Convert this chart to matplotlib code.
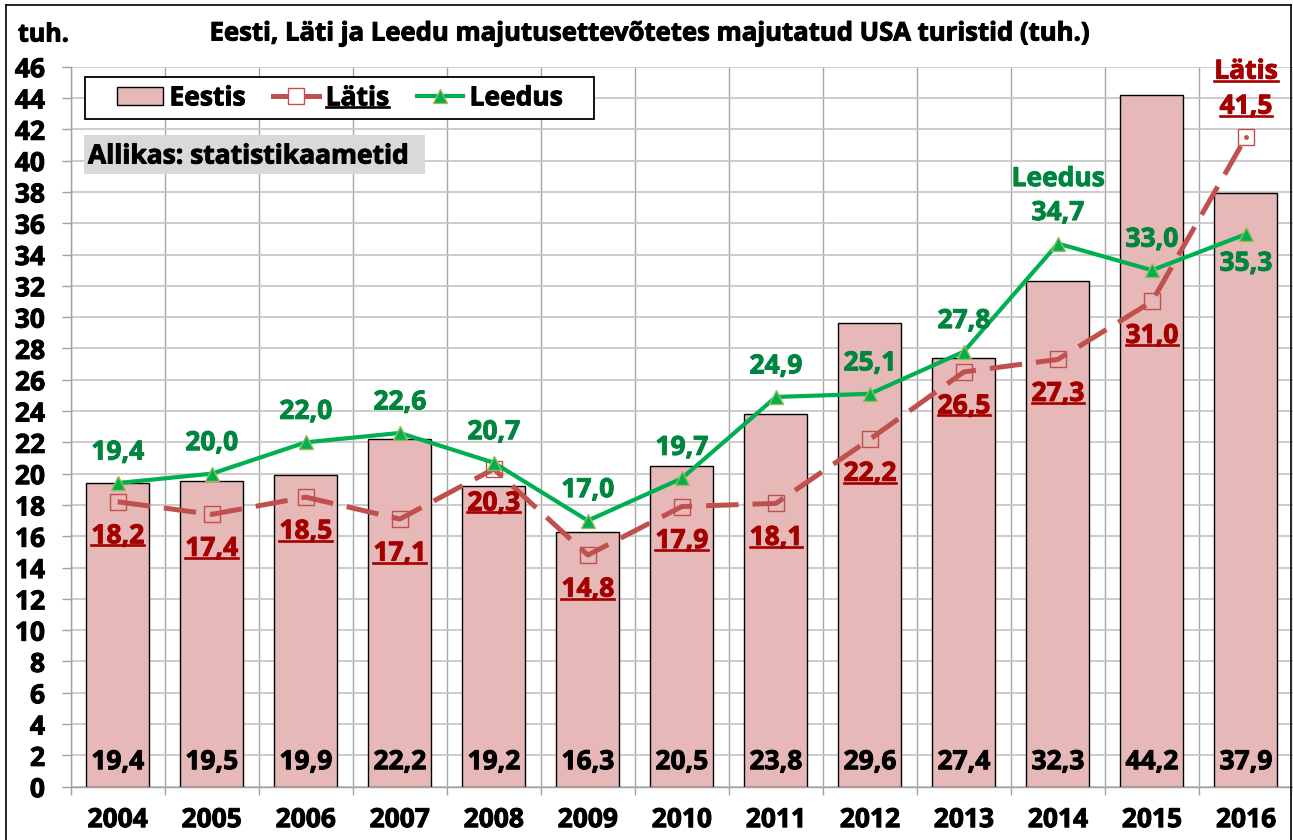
import matplotlib
matplotlib.use('Agg')
import matplotlib.pyplot as plt
import matplotlib.patheffects as pe
from matplotlib.lines import Line2D
from matplotlib.patches import Patch, Rectangle
import numpy as np

# ---- data ----
years = ['2004', '2005', '2006', '2007', '2008', '2009', '2010',
         '2011', '2012', '2013', '2014', '2015', '2016']
eestis = [19.4, 19.5, 19.9, 22.2, 19.2, 16.3, 20.5, 23.8, 29.6, 27.4, 32.3, 44.2, 37.9]
latis = [18.2, 17.4, 18.5, 17.1, 20.3, 14.8, 17.9, 18.1, 22.2, 26.5, 27.3, 31.0, 41.5]
leedus = [19.4, 20.0, 22.0, 22.6, 20.7, 17.0, 19.7, 24.9, 25.1, 27.8, 34.7, 33.0, 35.3]
yticks = list(range(0, 47, 2))
series_names = ['Eestis', 'Lätis', 'Leedus']
title = 'Eesti, Läti ja Leedu majutusettevõtetes majutatud USA turistid (tuh.)'
unit = 'tuh.'
source = 'Allikas: statistikaametid'

# ---- style ----
plt.rcParams['font.family'] = ['Open Sans', 'DejaVu Sans']
plt.rcParams['font.weight'] = 'bold'
C_BAR = '#E6B8B7'
C_LAT = '#C0504D'
C_LAT_TXT = '#A50000'
C_LEE = '#00B050'
C_LEE_TXT = '#00853E'
FS = 19


def heavy(color):
    return [pe.withStroke(linewidth=0.7, foreground=color)]


W, H = 1293, 840
fig = plt.figure(figsize=(W / 100, H / 100), dpi=100)
fig.patch.set_facecolor('white')
ax_l, ax_b, ax_t = 70.7, 786.7, 66.7
ax = fig.add_axes([ax_l / W, 1 - ax_b / H, (W - ax_l) / W, (ax_b - ax_t) / H])

x = np.arange(len(years))
ax.bar(x, eestis, width=0.67, color=C_BAR, edgecolor='black', linewidth=1.0, zorder=2)
ax.plot(x, latis, color=C_LAT, lw=3.6, dashes=(6.5, 2.8), marker='s', ms=11,
        mfc='none', mec=C_LAT, mew=1.0, zorder=3)
ax.plot(x[-1:], latis[-1:], marker='o', ms=2.5, color=C_LAT, lw=0, zorder=3)
ax.plot(x, leedus, color=C_LEE, lw=3.0, marker='^', ms=10, mfc=C_LEE,
        mec='#9BBB59', mew=1.0, zorder=4)

ax.set_xlim(-0.5, len(years) - 0.5)
ax.set_ylim(0, 46)
ax.set_yticks(yticks)
ax.set_yticklabels([str(t) for t in yticks], fontsize=FS, fontweight='bold')
ax.set_xticks(x)
ax.set_xticklabels(years, fontsize=FS, fontweight='bold')
for lab in ax.get_xticklabels() + ax.get_yticklabels():
    lab.set_path_effects(heavy('black'))
ax.set_xticks(np.arange(-0.5, len(years), 1.0), minor=True)
ax.tick_params(axis='x', which='major', length=0, pad=14)
ax.tick_params(axis='x', which='minor', length=6, color='#A0A0A0', width=1)
ax.tick_params(axis='y', which='major', length=6.5, color='#A0A0A0', width=1, pad=12)
ax.grid(axis='y', which='major', color='#C8C8C8', lw=1.3, zorder=0)
ax.grid(axis='x', which='minor', color='#A6A6A6', lw=1.0, zorder=0)
ax.set_axisbelow(True)
for s in ['top', 'right']:
    ax.spines[s].set_visible(False)
for s in ['left', 'bottom']:
    ax.spines[s].set_color('#A0A0A0')
    ax.spines[s].set_linewidth(1.0)


def fmt(v):
    return f'{v:.1f}'.replace('.', ',')


# bar labels
for i, v in enumerate(eestis):
    ax.annotate(fmt(v), (x[i], 0), xytext=(0, 25), textcoords='offset pixels',
                ha='center', va='center', fontsize=FS, fontweight='bold',
                color='black', zorder=6, path_effects=heavy('black'))

underline = []
n = len(years)
# Leedus labels
for i, v in enumerate(leedus):
    off = -29 if i == n - 1 else 31
    ax.annotate(fmt(v), (x[i], v), xytext=(0, off), textcoords='offset pixels',
                ha='center', va='center', fontsize=FS, fontweight='bold',
                color=C_LEE_TXT, zorder=6, path_effects=heavy(C_LEE_TXT))
ax.annotate(series_names[2], (x[10], leedus[10]), xytext=(0, 65), textcoords='offset pixels',
            ha='center', va='center', fontsize=FS, fontweight='bold', color=C_LEE_TXT,
            zorder=6, path_effects=heavy(C_LEE_TXT))

# Latis labels
for i, v in enumerate(latis):
    off = 31 if i == n - 1 else -34
    t = ax.annotate(fmt(v), (x[i], v), xytext=(0, off), textcoords='offset pixels',
                    ha='center', va='center', fontsize=FS, fontweight='bold',
                    color=C_LAT_TXT, zorder=6, path_effects=heavy(C_LAT_TXT))
    underline.append((t, C_LAT_TXT))
t = ax.annotate(series_names[1], (x[-1], latis[-1]), xytext=(0, 66), textcoords='offset pixels',
                ha='center', va='center', fontsize=FS, fontweight='bold', color=C_LAT_TXT,
                zorder=6, path_effects=heavy(C_LAT_TXT))
underline.append((t, C_LAT_TXT))

# legend: frame drawn separately, entries centred inside
lg_x0, lg_x1, lg_y0, lg_y1 = 85, 594, 76.7, 119
fig.add_artist(Rectangle((lg_x0 / W, 1 - lg_y1 / H), (lg_x1 - lg_x0) / W, (lg_y1 - lg_y0) / H,
                         transform=fig.transFigure, facecolor='white', edgecolor='black',
                         lw=1.3, zorder=7))
handles = [Patch(facecolor=C_BAR, edgecolor='black', linewidth=1.0),
           Line2D([], [], color=C_LAT, lw=3.6, marker='s', ms=11, mfc='white', mec=C_LAT, mew=1.0),
           Line2D([], [], color=C_LEE, lw=3.0, marker='^', ms=10, mfc=C_LEE, mec='#9BBB59', mew=1.0)]
leg = fig.legend(handles, series_names, loc='center',
                 bbox_to_anchor=((lg_x0 + lg_x1) / 2 / W, 1 - (lg_y0 + lg_y1) / 2 / H),
                 ncol=3, frameon=False, borderaxespad=0, borderpad=0,
                 prop={'size': FS, 'weight': 'bold'}, handlelength=1.75,
                 columnspacing=1.05, handletextpad=0.25)
leg.set_zorder(8)
for tx in leg.get_texts():
    tx.set_path_effects(heavy('black'))
underline.append((leg.get_texts()[1], 'black'))

# source box
fig.add_artist(Rectangle((84 / W, 1 - 174 / H), (425 - 84) / W, (174 - 135) / H,
                         transform=fig.transFigure, facecolor='#D9D9D9', edgecolor='none', zorder=8))
fig.text(88 / W, 1 - 156 / H, source, ha='left', va='center', fontsize=FS,
         fontweight='bold', color='black', zorder=9, path_effects=heavy('black'))

# title and unit
fig.text(651 / W, 1 - 33 / H, title, ha='center', va='center', fontsize=18.5,
         fontweight='bold', path_effects=heavy('black'))
fig.text(18 / W, 1 - 35 / H, unit, ha='left', va='center', fontsize=18,
         fontweight='bold', path_effects=heavy('black'))

# chart border
for xs, ys in [((6, 6), (5, 840)), ((6, 1291), (5, 5)), ((1291, 1291), (5, 840))]:
    fig.add_artist(Line2D([v / W for v in xs], [1 - v / H for v in ys], color='black',
                          lw=1.2, transform=fig.transFigure))

# underlines
fig.canvas.draw()
r = fig.canvas.get_renderer()
for t, col in underline:
    bb = t.get_window_extent(renderer=r)
    yb = bb.y0 + 4
    fig.add_artist(Line2D([bb.x0 / W, bb.x1 / W], [yb / H, yb / H], color=col, lw=1.9,
                          transform=fig.transFigure, zorder=10))

fig.savefig('out.png', dpi=100)
